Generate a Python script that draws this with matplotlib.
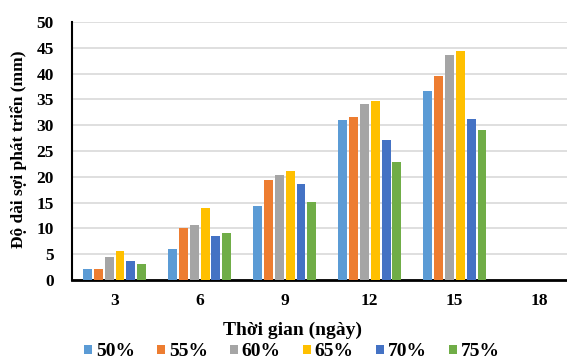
import numpy as np
import matplotlib
matplotlib.use("Agg")
import matplotlib.pyplot as plt

days = ["3", "6", "9", "12", "15", "18"]
series_names = ["50%", "55%", "60%", "65%", "70%", "75%"]

s50 = [2.2, 6.1, 14.4, 31.1, 36.6, 0]
s55 = [2.2, 10.1, 19.3, 31.5, 39.5, 0]
s60 = [4.5, 10.7, 20.3, 34.1, 43.6, 0]
s65 = [5.7, 14.0, 21.2, 34.6, 44.4, 0]
s70 = [3.7, 8.5, 18.7, 27.1, 31.3, 0]
s75 = [3.1, 9.1, 15.2, 22.9, 29.1, 0]
all_series = [s50, s55, s60, s65, s70, s75]

colors = ["#5B9BD5", "#ED7D31", "#A5A5A5", "#FFC000", "#4472C4", "#70AD47"]

plt.rcParams['font.family'] = ['Liberation Serif', 'DejaVu Serif']
plt.rcParams['font.weight'] = 'bold'

fig = plt.figure(figsize=(5.67, 3.62), dpi=100)
ax = fig.add_axes([0.127, 0.2265, 0.9, 0.7127])

x = np.arange(len(days))
group_w = 0.77
bw = group_w / len(all_series)
for i, (vals, c, name) in enumerate(zip(all_series, colors, series_names)):
    offs = -group_w / 2 + bw * (i + 0.5)
    ax.bar(x + offs, vals, width=bw * 0.82, color=c, label=name, zorder=3)

ax.set_xlim(-0.5, len(days) - 0.5)
ax.set_ylim(0, 50)
ax.set_yticks(np.arange(0, 51, 5))
ax.set_xticks(x)
ax.set_xticklabels(days)
ax.yaxis.grid(True, color="#D9D9D9", linewidth=1.2, zorder=0)
ax.tick_params(axis='y', length=0, pad=13, labelsize=12.5)
ax.tick_params(axis='x', length=0, pad=9, labelsize=12.5)

for side in ['top', 'right']:
    ax.spines[side].set_visible(False)
ax.spines['left'].set_linewidth(1.5)
ax.spines['bottom'].set_linewidth(2)

fig.text(0.032, 1 - 149 / 362, "Độ dài sợi phát triển (mm)", rotation=90,
         ha='center', va='center', fontsize=12.5, fontweight='bold')

fig.text(0.515, 1 - 330 / 362, "Thời gian (ngày)", ha='center', va='center',
         fontsize=14, fontweight='bold')

fig.legend(loc='center', bbox_to_anchor=(0.515, 1 - 352 / 362), ncol=6, frameon=False,
           fontsize=14, handlelength=0.4, handleheight=0.4, handletextpad=0.2,
           columnspacing=1.15, borderaxespad=0, borderpad=0)

fig.savefig("out.png", dpi=100)
